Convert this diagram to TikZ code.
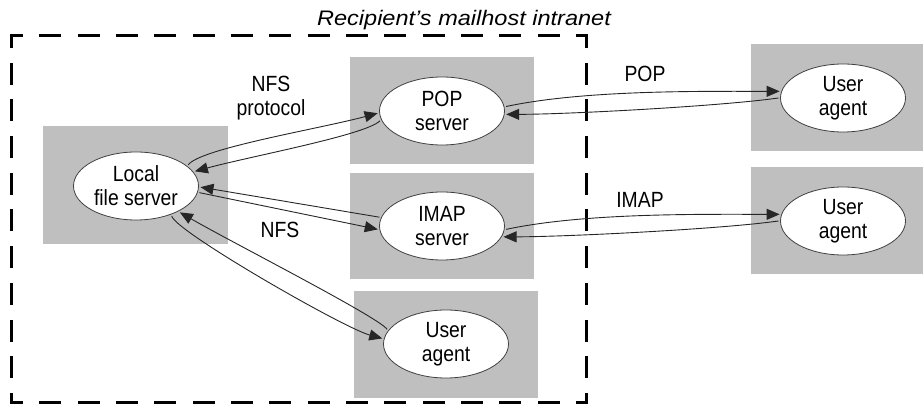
\documentclass[tikz,border=0pt]{standalone}
\usepackage{fontspec}
\setmainfont{Liberation Sans}[FakeStretch=0.88]
\newfontfamily\titlefont{Liberation Sans}[FakeStretch=1.12]
\usetikzlibrary{shapes.geometric,arrows.meta}
\definecolor{boxgray}{RGB}{191,191,191}
\begin{document}
\begin{tikzpicture}[x=1pt,y=1pt,
  graybox/.style={fill=boxgray, draw=none, minimum width=184pt, minimum height=107pt, inner sep=0pt},
  oval/.style={ellipse, draw=black!75, line width=0.8pt, fill=white, minimum width=125pt, minimum height=68pt, inner sep=0pt, align=center, font=\fontsize{22}{24}\selectfont, outer sep=2pt},
  link/.style={line width=0.9pt, draw=black!85, -{Triangle[length=13pt,width=11pt]}},
  lbl/.style={font=\fontsize{22}{24}\selectfont, align=center},
  bound/.style={line width=3pt, line cap=rect},
  hside/.style={bound, dash pattern=on 19pt off 19.33pt, dash phase=8.5pt},
  vside/.style={bound, dash pattern=on 19pt off 17.7pt, dash phase=8.5pt},
]
\useasboundingbox (0,0) rectangle (923,406);
% grey backgrounds
\node[graybox, minimum width=185pt, minimum height=118pt] (lfsbox) at (135.5,221) {};
\node[graybox] (popbox) at (442,295.5) {};
\node[graybox, minimum height=106pt] (imapbox) at (442,180) {};
\node[graybox] (uabox) at (446,61.5) {};
\node[graybox] (uaonebox) at (843,308.5) {};
\node[graybox] (uatwobox) at (843,185.5) {};
% intranet boundary
\node[minimum width=575pt, minimum height=367pt, inner sep=0pt, outer sep=0pt] (intranet) at (298.5,186.5) {};
\draw[hside] (intranet.north west) -- (intranet.north east);
\draw[hside] (intranet.south west) -- (intranet.south east);
\draw[vside] (intranet.north west) -- (intranet.south west);
\draw[vside] (intranet.north east) -- (intranet.south east);
\node[font=\titlefont\itshape\fontsize{21}{24}\selectfont, anchor=base] (title) at (464,380) {Recipient’s mailhost intranet};
% ovals
\node[oval] (lfs) at (136,220) {Local\\file server};
\node[oval] (pop) at (442,295) {POP\\server};
\node[oval] (imap) at (442,180) {IMAP\\server};
\node[oval] (ua) at (446,62) {User\\agent};
\node[oval] (uaone) at (843,308) {User\\agent};
\node[oval] (uatwo) at (843,185) {User\\agent};
% labels
\node[lbl] (nfsproto) at (271,308) {NFS\\protocol};
\node[lbl] (nfs) at (280,176) {NFS};
\node[lbl] (poplbl) at (645,332) {POP};
\node[lbl] (imaplbl) at (640,206) {IMAP};
% connectors
\draw[link] (lfs.22) to[out=55, in=195, out distance=20pt, in distance=60pt] (pop.182);
\draw[link] (pop.189) to[out=225, in=15, out distance=20pt, in distance=60pt] (lfs.14);
\draw[link] (imap.172) -- (lfs.-1);
\draw[link] (lfs.-6) -- (imap.183);
\draw[link] (ua.166) to[out=125, in=-30, out distance=15pt, in distance=60pt] (lfs.-31);
\draw[link] (lfs.-40) to[out=-80, in=165, out distance=15pt, in distance=40pt] (ua.175);
\draw[link] (pop.4) to[out=12, in=180, out distance=80pt, in distance=80pt] (uaone.174);
\draw[link] (uaone.180) to[out=188, in=0, out distance=60pt, in distance=60pt] (pop.-3);
\draw[link] (imap.-3) to[out=12, in=180, out distance=80pt, in distance=80pt] (uatwo.174);
\draw[link] (uatwo.180) to[out=188, in=0, out distance=60pt, in distance=60pt] (imap.-10);
\end{tikzpicture}
\end{document}
